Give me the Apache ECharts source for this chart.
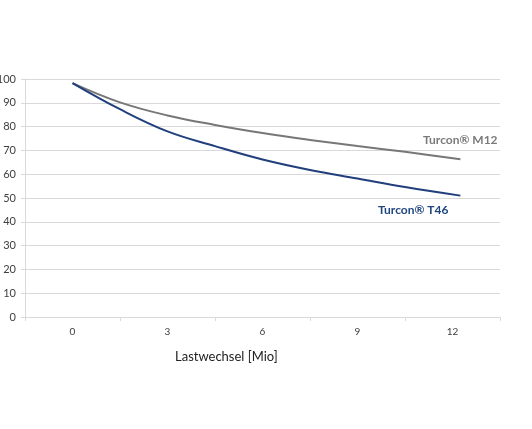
<!DOCTYPE html>
<html><head><meta charset="utf-8">
<script src="https://cdn.jsdelivr.net/npm/echarts@6/dist/echarts.min.js"></script>
<style>html,body{margin:0;padding:0;background:#fff}#c{width:532px;height:429px}</style>
</head><body><div id="c"></div>
<script>
var categories = ['0', '3', '6', '9', '12'];
var yTicks = [0, 10, 20, 30, 40, 50, 60, 70, 80, 90, 100];
var xPos = [0, 1.5, 3, 4.5, 6, 7.5, 9, 10.5, 12.25];
var m12 = [98.3, 90.2, 84.7, 80.7, 77.3, 74.4, 71.8, 69.4, 66.3];
var t46 = [98.3, 87.3, 78.0, 71.8, 66.2, 61.8, 58.2, 54.6, 51.0];
var labelM12 = 'Turcon® M12';
var labelT46 = 'Turcon® T46';
var xTitle = 'Lastwechsel [Mio]';

function pairs(xs, ys) { return xs.map(function (x, i) { return [x, ys[i]]; }); }

var font = 'Lato, "Open Sans", sans-serif';
var chart = echarts.init(document.getElementById('c'), null, { renderer: 'canvas' });
chart.setOption({
  animation: false,
  backgroundColor: '#fff',
  grid: { left: 25, right: 32, top: 79, bottom: 112, containLabel: false, outerBoundsMode: 'none' },
  xAxis: [{
    type: 'category', data: categories, boundaryGap: true,
    axisLine: { lineStyle: { color: '#d9d9d9' } },
    axisTick: { show: true, alignWithLabel: false, length: 4, lineStyle: { color: '#d9d9d9' } },
    axisLabel: { color: '#404040', fontFamily: font, fontSize: 10, margin: 10 },
    splitLine: { show: false }
  }, {
    type: 'value', min: -1.5, max: 13.5, show: false
  }],
  yAxis: {
    type: 'value', min: yTicks[0], max: yTicks[yTicks.length - 1], interval: 10,
    axisLine: { show: true, onZero: false, lineStyle: { color: '#d9d9d9' } },
    axisTick: { show: true, length: 4, lineStyle: { color: '#d9d9d9' } },
    axisLabel: { color: '#404040', fontFamily: font, fontSize: 11, margin: 9 },
    splitLine: { show: true, lineStyle: { color: '#d9d9d9', width: 1 } }
  },
  series: [{
    type: 'line', xAxisIndex: 1, data: pairs(xPos, m12), smooth: 0.4,
    showSymbol: false, lineStyle: { color: '#777777', width: 2 }
  }, {
    type: 'line', xAxisIndex: 1, data: pairs(xPos, t46), smooth: 0.4,
    showSymbol: false, lineStyle: { color: '#213f7c', width: 2 }
  }],
  graphic: [
    { type: 'text', left: 423, top: 134, style: { text: labelM12, fill: '#7a7a7a', font: 'bold 12px ' + font } },
    { type: 'text', left: 378, top: 204, style: { text: labelT46, fill: '#1f4680', font: 'bold 12px ' + font } },
    { type: 'text', left: 175, top: 350, style: { text: xTitle, fill: '#222', font: '13px ' + font } }
  ]
});
</script></body></html>
